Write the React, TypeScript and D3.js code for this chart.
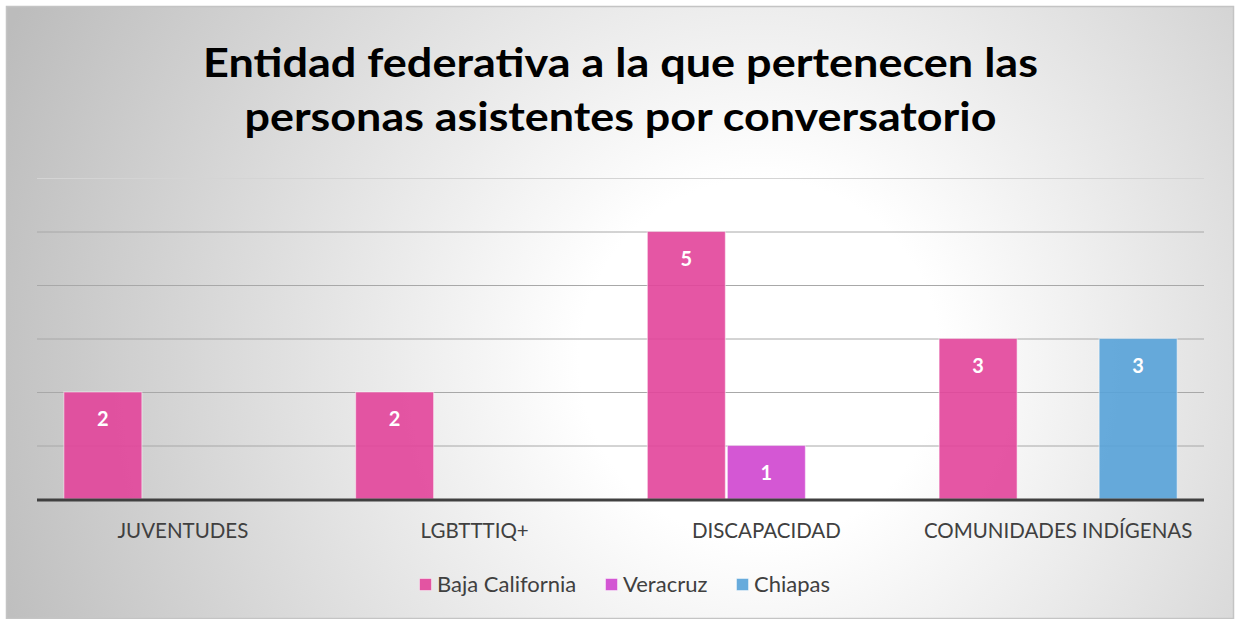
import React from "react";
import * as d3 from "d3";

const categories = ["JUVENTUDES", "LGBTTTIQ+", "DISCAPACIDAD", "COMUNIDADES INDÍGENAS"];
const series = ["Baja California", "Veracruz", "Chiapas"];
const bajaCalifornia = [2, 2, 5, 3];
const veracruz = [0, 0, 1, 0];
const chiapas = [0, 0, 0, 3];
const seriesValues = [bajaCalifornia, veracruz, chiapas];
const seriesColors = ["#e2449a", "#cf45cf", "#56a2d8"];
const yTicks = [0, 1, 2, 3, 4, 5, 6];
const titleLines = ["Entidad federativa a la que pertenecen las", "personas asistentes por conversatorio"];

const W = 1241;
const H = 619;
const plot = { left: 37, right: 1204, top: 178, bottom: 499 };

export default function App() {
  const x0 = d3
    .scaleBand<string>()
    .domain(categories)
    .range([plot.left, plot.right])
    .paddingInner(0.184)
    .paddingOuter(0.092);
  const x1 = d3
    .scaleBand<string>()
    .domain(series)
    .range([0, x0.bandwidth()])
    .paddingInner(0.025);
  const y = d3.scaleLinear().domain([0, 6]).range([plot.bottom, plot.top]);

  const font = "Lato, 'Open Sans', sans-serif";
  const legendX = [419, 605, 736];

  return (
    <svg
      width={W}
      height={H}
      style={{ position: "absolute", left: 0, top: 0 }}
    >
      <defs>
        <radialGradient id="bg" gradientUnits="userSpaceOnUse" cx={760} cy={360} r={820}>
          <stop offset="0" stopColor="#ffffff" />
          <stop offset="0.22" stopColor="#ffffff" />
          <stop offset="1" stopColor="#bcbcbc" />
        </radialGradient>
      </defs>
      <rect x={0} y={0} width={W} height={H} fill="#ffffff" />
      <rect x={6.5} y={6.5} width={1227} height={612} fill="url(#bg)" stroke="#c4c4c4" strokeWidth={1.5} />

      {titleLines.map((t, i) => (
        <text
          key={i}
          x={620.5}
          y={77 + i * 54}
          textAnchor="middle"
          fontFamily={font}
          fontWeight={700}
          fontSize={41}
          fill="#000"
          textLength={i === 0 ? 835 : 752}
          lengthAdjust="spacingAndGlyphs"
        >
          {t}
        </text>
      ))}

      {yTicks.slice(1).map((t) => (
        <line
          key={t}
          x1={plot.left}
          x2={plot.right}
          y1={y(t) + 0.5}
          y2={y(t) + 0.5}
          stroke={t === 6 ? "#d4d4d4" : "#a8a8a8"}
          strokeWidth={1}
        />
      ))}

      {series.map((s, si) =>
        categories.map((c, ci) => {
          const v = seriesValues[si][ci];
          if (!v) return null;
          const bx = (x0(c) as number) + (x1(s) as number);
          const by = y(v);
          return (
            <g key={s + c}>
              <rect
                x={bx}
                y={by}
                width={x1.bandwidth()}
                height={y(0) - by}
                fill={seriesColors[si]}
                fillOpacity={0.9}
                stroke="#ffffff"
                strokeOpacity={0.45}
                strokeWidth={1.2}
              />
              <text
                x={bx + x1.bandwidth() / 2}
                y={by + 34}
                textAnchor="middle"
                fontFamily={font}
                fontWeight={700}
                fontSize={20}
                fill="#ffffff"
              >
                {v}
              </text>
            </g>
          );
        })
      )}

      <line x1={plot.left} x2={plot.right} y1={y(0) + 1} y2={y(0) + 1} stroke="#404040" strokeWidth={3} />

      {categories.map((c) => (
        <text
          key={c}
          x={(x0(c) as number) + x0.bandwidth() / 2}
          y={538}
          textAnchor="middle"
          fontFamily={font}
          fontSize={20.5}
          fill="#404040"
        >
          {c}
        </text>
      ))}

      {series.map((s, si) => (
        <g key={s}>
          <rect
            x={legendX[si] + 0.5}
            y={578.5}
            width={12}
            height={12}
            fill={seriesColors[si]}
            fillOpacity={0.9}
            stroke="#ffffff"
            strokeOpacity={0.45}
          />
          <text x={legendX[si] + 18} y={592} fontFamily={font} fontSize={22} fill="#404040">
            {s}
          </text>
        </g>
      ))}
    </svg>
  );
}
